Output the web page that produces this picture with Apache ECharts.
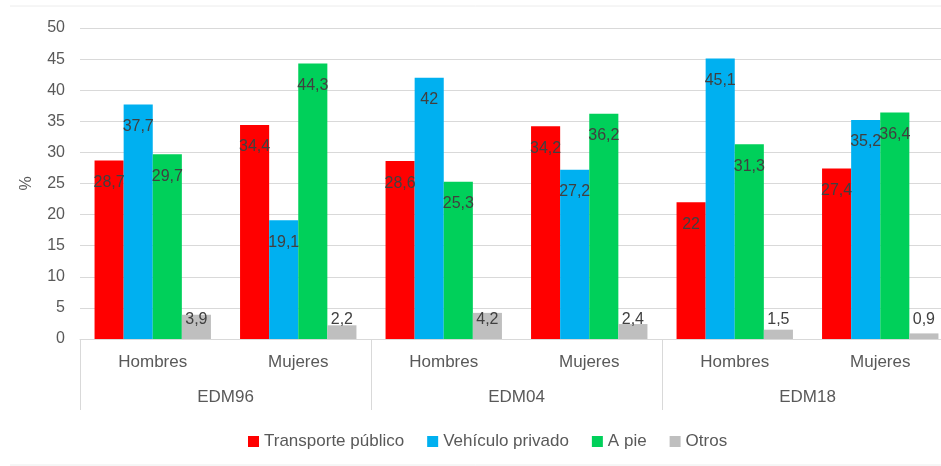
<!DOCTYPE html>
<html>
<head>
<meta charset="utf-8">
<script src="https://cdn.jsdelivr.net/npm/echarts@6/dist/echarts.min.js"></script>
<style>
  html, body { margin: 0; padding: 0; background: #fff; }
  #chart { width: 941px; height: 466px; }
</style>
</head>
<body>
<div id="chart"></div>
<script>
// datos
const sexos = ['Hombres', 'Mujeres', 'Hombres', 'Mujeres', 'Hombres', 'Mujeres']
const encuestas = ['EDM96', 'EDM04', 'EDM18']
const transportePublico = [28.7, 34.4, 28.6, 34.2, 22, 27.4]
const vehiculoPrivado = [37.7, 19.1, 42, 27.2, 45.1, 35.2]
const aPie = [29.7, 44.3, 25.3, 36.2, 31.3, 36.4]
const otros = [3.9, 2.2, 4.2, 2.4, 1.5, 0.9]

const fontFamily = 'Liberation Sans, Arial, sans-serif'
const textColor = '#595959'
const lineColor = '#d9d9d9'

// etiqueta con coma decimal
const fmt = p => String(p.value).replace('.', ',')

const chart = echarts.init(document.getElementById('chart'))

function serie (name, data, color, pos, dist) {
  return {
    name: name,
    type: 'bar',
    data: data,
    barGap: 0,
    barCategoryGap: '20%',
    itemStyle: { color: color },
    label: {
      show: true,
      position: pos,
      distance: dist,
      formatter: fmt,
      color: '#404040',
      fontSize: 16,
      fontFamily: fontFamily
    }
  }
}

chart.setOption({
  animation: false,
  textStyle: { fontFamily: fontFamily },
  // el área del gráfico sigue más allá del borde derecho
  grid: { left: 80, width: 873, top: 28, bottom: 127, outerBoundsMode: 'none' },
  legend: {
    left: 243,
    top: 428,
    icon: 'rect',
    itemWidth: 11,
    itemHeight: 11,
    itemGap: 23,
    textStyle: { color: textColor, fontSize: 17, fontFamily: fontFamily }
  },
  xAxis: [
    {
      type: 'category',
      data: sexos,
      axisLine: { lineStyle: { color: lineColor } },
      axisTick: { show: false },
      axisLabel: { color: textColor, fontSize: 17, margin: 15 }
    },
    {
      type: 'category',
      data: encuestas,
      position: 'bottom',
      axisLine: { show: false },
      axisTick: { show: true, length: 71, lineStyle: { color: lineColor } },
      axisLabel: { color: textColor, fontSize: 17, margin: 50 }
    }
  ],
  yAxis: {
    type: 'value',
    min: 0,
    max: 50,
    interval: 5,
    name: '%',
    nameLocation: 'middle',
    nameRotate: 90,
    nameGap: 45,
    nameTextStyle: { color: textColor, fontSize: 16 },
    axisLine: { show: false },
    axisTick: { show: false },
    axisLabel: { color: textColor, fontSize: 16, margin: 15 },
    splitLine: { lineStyle: { color: lineColor } }
  },
  graphic: [
    { type: 'line', shape: { x1: 10, y1: 6, x2: 941, y2: 6 }, style: { stroke: '#ececec', lineWidth: 1 } },
    { type: 'line', shape: { x1: 10, y1: 465, x2: 941, y2: 465 }, style: { stroke: '#ececec', lineWidth: 1 } }
  ],
  series: [
    serie('Transporte público', transportePublico, '#ff0000', 'insideTop', 14),
    serie('Vehículo privado', vehiculoPrivado, '#00b0f0', 'insideTop', 14),
    serie('A pie', aPie, '#00d05a', 'insideTop', 14),
    serie('Otros', otros, '#bfbfbf', 'insideBottom', 11)
  ]
})
</script>
</body>
</html>
